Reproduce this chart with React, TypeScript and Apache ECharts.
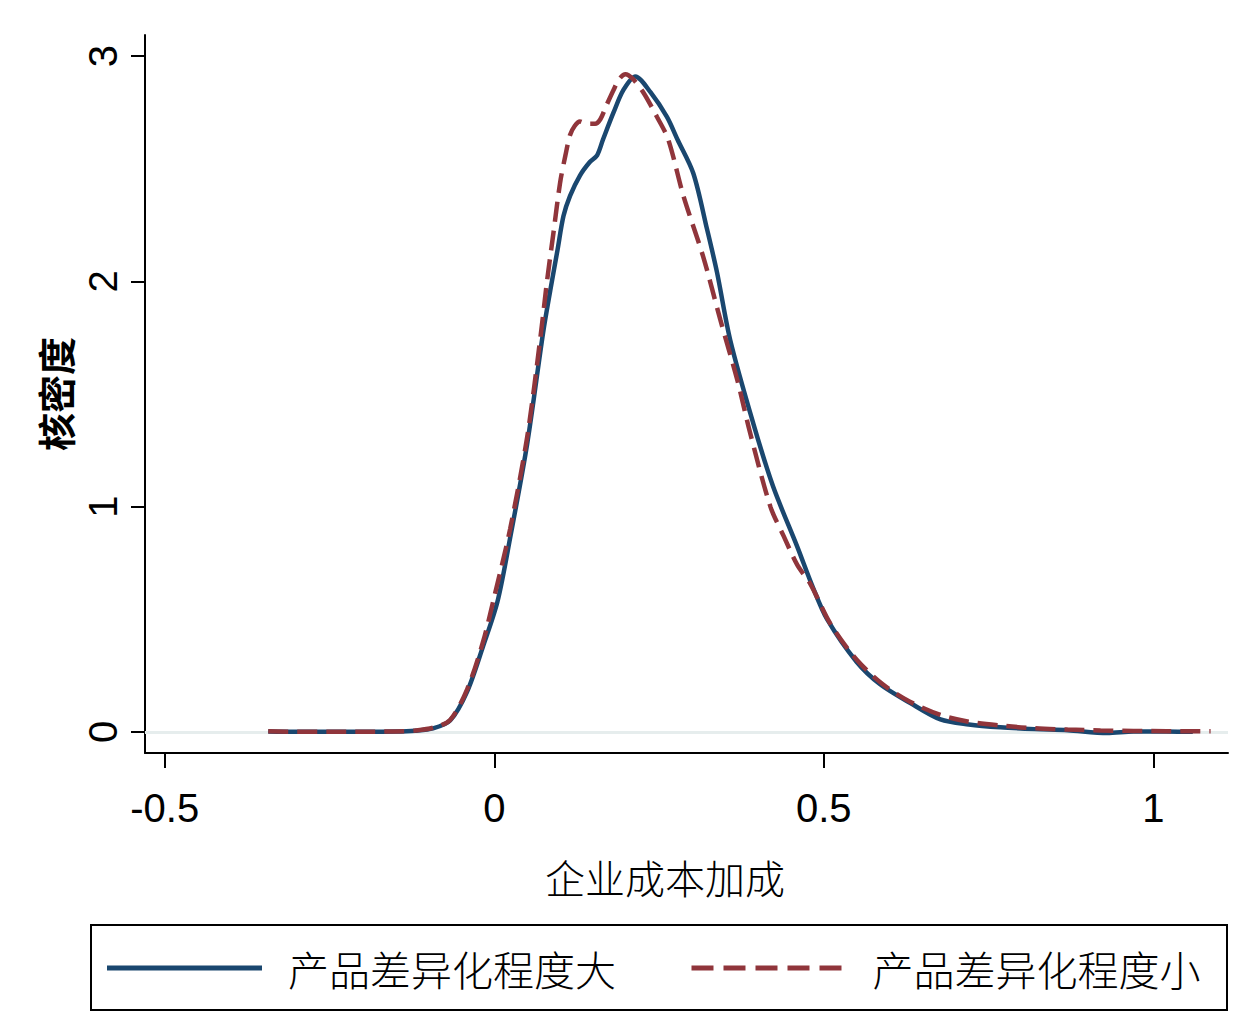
import React, { useEffect, useRef } from "react";
import * as echarts from "echarts";

// X ticks
const xTicks = [-0.5, 0, 0.5, 1];
const yTicks = [0, 1, 2, 3];

// 产品差异化程度大 (solid navy)
const bigX = [-0.343, -0.3, -0.25, -0.2, -0.15, -0.12, -0.093, -0.067, -0.041, -0.017, 0.005, 0.024, 0.05, 0.074, 0.085, 0.096, 0.105, 0.115, 0.13, 0.145, 0.156, 0.165, 0.181, 0.196, 0.214, 0.237, 0.262, 0.278, 0.302, 0.323, 0.338, 0.358, 0.393, 0.423, 0.46, 0.483, 0.505, 0.55, 0.586, 0.63, 0.677, 0.72, 0.768, 0.82, 0.87, 0.93, 0.97, 1.02, 1.06];
const bigY = [0.002, 0, 0, 0, 0.001, 0.005, 0.015, 0.05, 0.18, 0.38, 0.58, 0.86, 1.28, 1.77, 1.96, 2.14, 2.29, 2.38, 2.47, 2.53, 2.56, 2.63, 2.75, 2.85, 2.91, 2.84, 2.73, 2.63, 2.48, 2.23, 2.04, 1.74, 1.37, 1.09, 0.82, 0.645, 0.5, 0.31, 0.21, 0.13, 0.055, 0.033, 0.02, 0.012, 0.007, -0.005, 0.002, 0.001, 0.0];

// 产品差异化程度小 (dashed maroon)
const smallX = [-0.343, -0.3, -0.25, -0.2, -0.15, -0.12, -0.093, -0.067, -0.041, -0.017, 0.0, 0.024, 0.05, 0.07, 0.08, 0.09, 0.1, 0.108, 0.115, 0.122, 0.13, 0.14, 0.153, 0.161, 0.17, 0.181, 0.19, 0.199, 0.21, 0.226, 0.247, 0.264, 0.287, 0.317, 0.343, 0.369, 0.388, 0.419, 0.439, 0.46, 0.48, 0.51, 0.55, 0.59, 0.63, 0.677, 0.72, 0.768, 0.82, 0.87, 0.92, 0.97, 1.02, 1.087];
const smallY = [0.003, 0.0, 0.0, 0.0, 0.002, 0.006, 0.018, 0.053, 0.19, 0.4, 0.6, 0.9, 1.31, 1.75, 2.0, 2.22, 2.44, 2.56, 2.65, 2.69, 2.71, 2.7, 2.7, 2.72, 2.78, 2.85, 2.9, 2.92, 2.9, 2.84, 2.73, 2.63, 2.38, 2.11, 1.83, 1.56, 1.33, 1.0, 0.87, 0.74, 0.655, 0.48, 0.32, 0.21, 0.135, 0.075, 0.045, 0.028, 0.016, 0.01, 0.006, 0.004, 0.003, 0.003];

const seriesNames = ["产品差异化程度大", "产品差异化程度小"];
const xTitle = "企业成本加成";
const yTitle = "核密度";

const zip = (xs: number[], ys: number[]) => xs.map((x, i) => [x, ys[i]]);

export default function App() {
  const ref = useRef<HTMLDivElement>(null);
  useEffect(() => {
    document.body.style.margin = "0";
    if (!ref.current) return;
    const chart = echarts.init(ref.current, undefined, { renderer: "svg" });
    const axisFont = "'Liberation Sans', Arial, sans-serif";
    const cjk = "'Noto Sans CJK SC', sans-serif";
    const blue = "#1a476f";
    const red = "#90353b";
    chart.setOption({
      animation: false,
      backgroundColor: "#ffffff",
      grid: { left: 145, right: 31, top: 35, bottom: 279, containLabel: false },
      xAxis: {
        type: "value",
        min: -0.53,
        max: 1.1134,
        name: xTitle,
        nameLocation: "middle",
        nameGap: 104,
        nameTextStyle: { fontFamily: cjk, fontSize: 40, color: "#000", fontWeight: 300, padding: [0, 43, 0, 0] },
        axisLine: { show: true, onZero: false, lineStyle: { color: "#000", width: 2 } },
        axisTick: { show: true, customValues: xTicks, length: 15, lineStyle: { color: "#000", width: 2 } },
        axisLabel: { customValues: xTicks, fontFamily: axisFont, fontSize: 40, color: "#000", margin: 35, formatter: (v: number) => String(v) },
        splitLine: { show: false },
      },
      yAxis: {
        type: "value",
        min: -0.094,
        max: 3.094,
        name: yTitle,
        nameLocation: "middle",
        nameGap: 72,
        nameRotate: 90,
        nameTextStyle: { fontFamily: cjk, fontSize: 38, color: "#000", fontWeight: "bold" },
        axisLine: { show: true, onZero: false, lineStyle: { color: "#000", width: 2 } },
        axisTick: { show: true, customValues: yTicks, length: 14, lineStyle: { color: "#000", width: 2 } },
        axisLabel: { customValues: yTicks, rotate: 90, fontFamily: axisFont, fontSize: 40, color: "#000", margin: 22 },
        splitLine: { show: false },
      },
      legend: {
        left: 107,
        top: 943,
        padding: 0,
        itemWidth: 155,
        itemHeight: 5,
        itemGap: 73,
        textStyle: { fontFamily: cjk, fontSize: 41, fontWeight: 300, color: "#000", padding: [0, 0, 0, 21], lineHeight: 50 },
        data: [
          { name: seriesNames[0], icon: "rect", itemStyle: { color: blue } },
          { name: seriesNames[1], lineStyle: { color: red, width: 5, type: [22, 10] } },
        ],
      },
      graphic: [
        {
          type: "rect",
          shape: { x: 91, y: 925, width: 1136, height: 85 },
          style: { fill: "none", stroke: "#000", lineWidth: 2 },
          silent: true,
        },
      ],
      series: [
        {
          name: seriesNames[0],
          type: "line",
          data: zip(bigX, bigY),
          showSymbol: false,
          symbol: "none",
          smooth: 0.3,
          lineStyle: { color: blue, width: 4.5 },
          itemStyle: { color: blue },
          z: 3,
          markLine: {
            silent: true,
            symbol: "none",
            label: { show: false },
            lineStyle: { color: "#e6eded", width: 3, type: "solid" },
            data: [{ yAxis: 0 }],
            z: 1,
          },
        },
        {
          name: seriesNames[1],
          type: "line",
          data: zip(smallX, smallY),
          showSymbol: false,
          symbol: "none",
          smooth: 0.3,
          lineStyle: { color: red, width: 4.5, type: [20, 9] },
          itemStyle: { color: red },
          z: 4,
        },
      ],
    });
    return () => chart.dispose();
  }, []);
  return <div ref={ref} style={{ width: 1259, height: 1032 }} />;
}
